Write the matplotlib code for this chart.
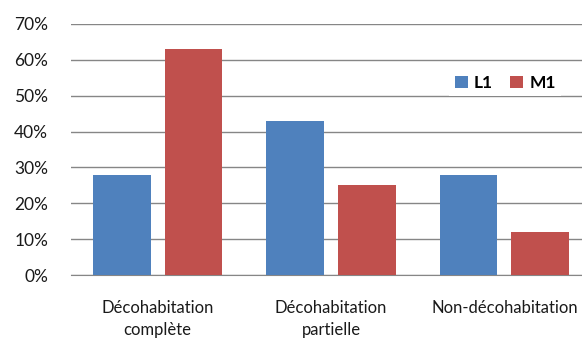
import numpy as np
import matplotlib.pyplot as plt
from matplotlib.ticker import PercentFormatter

categories = ['Décohabitation\ncomplète', 'Décohabitation\npartielle', 'Non-décohabitation']
l1 = [0.28, 0.43, 0.28]
m1 = [0.63, 0.25, 0.12]

plt.rcParams['font.family'] = ['Lato', 'DejaVu Sans']

fig = plt.figure(figsize=(5.82, 3.41), dpi=100)
ax = fig.add_axes([71 / 582, 66 / 341, 520 / 582, 251 / 341])

x = np.arange(len(categories))
width = 0.334
ax.bar(x - 0.207, l1, width, color='#4F81BD', label='L1', zorder=3)
ax.bar(x + 0.207, m1, width, color='#C0504D', label='M1', zorder=3)

ax.set_xlim(-0.5, 2.5)
ax.set_ylim(0, 0.7)
ax.set_yticks(np.arange(0, 0.71, 0.1))
ax.yaxis.set_major_formatter(PercentFormatter(1.0, decimals=0))
ax.grid(axis='y', color='#868686', linewidth=1, zorder=0)

ax.set_xticks(x)
ax.set_xticklabels(categories, fontsize=12, color='#1a1a1a', linespacing=1.45)
ax.tick_params(axis='x', length=0, pad=18)
ax.tick_params(axis='y', length=0, pad=16.5, labelsize=12.5, labelcolor='#1a1a1a')

for side in ['top', 'right', 'left']:
    ax.spines[side].set_visible(False)
ax.spines['bottom'].set_color('#868686')

leg = ax.legend(loc='center', bbox_to_anchor=(0.835, 0.765), ncol=2, frameon=True,
                framealpha=1, edgecolor='none', fancybox=False, handlelength=0.75,
                handleheight=0.75, handletextpad=0.35, columnspacing=1.0,
                borderpad=0.3, prop={'weight': 'bold', 'size': 12.5})

fig.savefig('out.png', dpi=100)
